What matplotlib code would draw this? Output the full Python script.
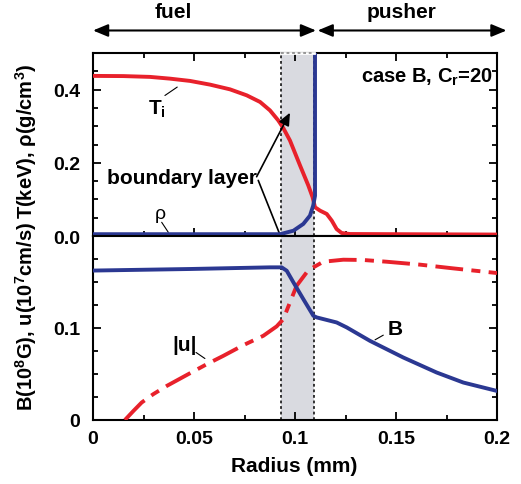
import numpy as np
import matplotlib.pyplot as plt
from matplotlib.ticker import MultipleLocator

plt.rcParams['font.family'] = ['Liberation Sans', 'DejaVu Sans']
plt.rcParams['font.weight'] = 'bold'
plt.rcParams['mathtext.fontset'] = 'custom'
plt.rcParams['mathtext.rm'] = 'Liberation Sans:bold'
plt.rcParams['mathtext.it'] = 'Liberation Sans:bold'
plt.rcParams['mathtext.bf'] = 'Liberation Sans:bold'
plt.rcParams['lines.scale_dashes'] = False

# ion temperature T_i (keV)
r_T = [0.0, 0.015, 0.0282, 0.0381, 0.048, 0.0579, 0.0678, 0.0761, 0.0827,
       0.0876, 0.0917, 0.0942, 0.0975, 0.1025, 0.1066, 0.1087, 0.1099,
       0.1124, 0.1157, 0.1182, 0.1206, 0.1231, 0.1272, 0.2]
T_i = [0.4375, 0.437, 0.4348, 0.430, 0.4238, 0.4137, 0.4008, 0.3844, 0.3663,
       0.3433, 0.3159, 0.295, 0.261, 0.1926, 0.1378, 0.106, 0.0786,
       0.0693, 0.0603, 0.042, 0.019, 0.0082, 0.0055, 0.004]

# density rho (g/cm^3)
r_rho = [0.0, 0.0926, 0.0992, 0.1041, 0.1074, 0.109, 0.1099, 0.1099]
rho = [0.005, 0.005, 0.0145, 0.033, 0.0557, 0.083, 0.110, 0.6]

# magnetic field B (10^8 G)
r_B = [0.0, 0.048, 0.0876, 0.0934, 0.0959, 0.0992, 0.1041, 0.1091, 0.1107,
       0.1206, 0.1256, 0.1371, 0.1536, 0.1701, 0.1833, 0.1999]
B = [0.1624, 0.1641, 0.1659, 0.1659, 0.1622, 0.1496, 0.1314, 0.1132, 0.1115,
     0.106, 0.1006, 0.086, 0.0679, 0.0516, 0.0407, 0.0316]

# flow speed |u| (10^7 cm/s)
r_u = [0.0158, 0.02, 0.0241, 0.0298, 0.0365, 0.048, 0.0563, 0.0645, 0.0744,
       0.0843, 0.0909, 0.0942, 0.0975, 0.1008, 0.1058, 0.1091, 0.114,
       0.1239, 0.1338, 0.1454, 0.162, 0.1782, 0.2]
u = [0.0, 0.0098, 0.019, 0.028, 0.037, 0.0508, 0.0606, 0.0697, 0.0813,
     0.0915, 0.1017, 0.1096, 0.1278, 0.1459, 0.1605, 0.1659, 0.172,
     0.1742, 0.1739, 0.172, 0.1688, 0.1648, 0.1597]

layer = (0.0929, 0.1096)

red = '#e8212b'
blue = '#2b3892'
band = '#d9dae0'

fig = plt.figure(figsize=(5.21, 4.85), dpi=100)
ax1 = fig.add_axes([0.1785, 0.5113, 0.7755, 0.3773])
ax2 = fig.add_axes([0.1785, 0.132, 0.7755, 0.3794])

for ax in (ax1, ax2):
    ax.axvspan(layer[0], layer[1], color=band, lw=0, zorder=0)
    for xv in layer:
        ax.axvline(xv, color='k', lw=1.1, ls=(0, (2, 2)), zorder=1)
    ax.set_xlim(0, 0.2)
    ax.xaxis.set_major_locator(MultipleLocator(0.05))
    ax.xaxis.set_minor_locator(MultipleLocator(0.025))
    for s in ax.spines.values():
        s.set_linewidth(1.5)
    ax.tick_params(which='both', direction='in', width=1.3, labelsize=14, right=True)
    ax.tick_params(which='major', length=6)
    ax.tick_params(which='minor', length=3.5)

# upper panel: temperature and density
ax1.plot(r_T, T_i, color=red, lw=2.8, zorder=3, solid_joinstyle='round')
ax1.plot(r_rho, rho, color=blue, lw=2.8, zorder=4, solid_joinstyle='round')
ax1.set_ylim(0, 0.5)
ax1.set_yticks([0.0, 0.2, 0.4])
ax1.set_yticklabels(['0.0', '0.2', '0.4'])
ax1.yaxis.set_minor_locator(MultipleLocator(0.05))
ax1.tick_params(which='both', top=True, labelbottom=False, pad=9)
ax1.plot([layer[0], layer[1]], [0.5, 0.5], color='white', lw=2, clip_on=False, zorder=5)
ax1.plot([layer[0], layer[1]], [0.5, 0.5], color='#888888', lw=1.2, ls=(0, (2, 2)),
         clip_on=False, zorder=6)

# lower panel: field and speed
ax2.plot(r_B, B, color=blue, lw=2.8, zorder=4, solid_joinstyle='round')
ax2.plot(r_u, u, color=red, lw=2.8, dashes=(20, 6, 6.5, 6), zorder=3)
ax2.set_ylim(0, 0.2)
ax2.set_yticks([0, 0.1])
ax2.set_yticklabels(['0', '0.1'])
ax2.yaxis.set_minor_locator(MultipleLocator(0.025))
ax2.set_xticks([0, 0.05, 0.1, 0.15, 0.2])
ax2.set_xticklabels(['0', '0.05', '0.1', '0.15', '0.2'])
ax2.tick_params(which='both', top=False)
ax2.tick_params(axis='y', pad=9)
ax2.tick_params(axis='x', pad=7)

# labels on the curves
thin = dict(arrowstyle='-', lw=0.8, color='k', shrinkA=0, shrinkB=0)
ax1.text(0.0315, 0.348, r'T$_\mathrm{i}$', fontsize=15, ha='center', va='center')
ax1.annotate('', xy=(0.0417, 0.407), xytext=(0.0356, 0.384), arrowprops=thin)
ax1.text(0.0332, 0.0603, 'ρ', fontsize=14, fontweight='normal', ha='center', va='center')
ax1.annotate('', xy=(0.0373, 0.010), xytext=(0.034, 0.0375), arrowprops=thin)
ax1.text(0.0439, 0.161, 'boundary layer', fontsize=15, ha='center', va='center')
head = dict(arrowstyle='-|>,head_length=0.5,head_width=0.22', lw=1.2, color='k',
            shrinkA=0, shrinkB=0, mutation_scale=15)
ax1.annotate('', xy=(0.0975, 0.337), xytext=(0.081, 0.162), arrowprops=head,
             annotation_clip=False)
ax1.annotate('', xy=(0.0967, -0.054), xytext=(0.0818, 0.152), arrowprops=head,
             annotation_clip=False)
ax1.text(0.198, 0.422, r'case B, C$_\mathrm{r}$=20', fontsize=14.5, ha='right', va='baseline')

ax2.text(0.0455, 0.0824, '|u|', fontsize=15, ha='center', va='center')
ax2.annotate('', xy=(0.0554, 0.0668), xytext=(0.051, 0.0734), arrowprops=thin)
ax2.text(0.1495, 0.0995, 'B', fontsize=15, ha='center', va='center')
ax2.annotate('', xy=(0.1396, 0.0871), xytext=(0.1437, 0.0922), arrowprops=thin)

# fuel / pusher regions above the plot
span = dict(arrowstyle='<|-|>,head_length=0.6,head_width=0.25', lw=1.5, color='k',
            shrinkA=0, shrinkB=0, mutation_scale=15)
ax1.annotate('', xy=(0.0, 0.5616), xytext=(0.1104, 0.5616), arrowprops=span,
             annotation_clip=False)
ax1.annotate('', xy=(0.1112, 0.5616), xytext=(0.2047, 0.5616), arrowprops=span,
             annotation_clip=False)
ax1.text(0.040, 0.6137, 'fuel', fontsize=15, ha='center', va='center', clip_on=False)
ax1.text(0.1528, 0.6137, 'pusher', fontsize=15, ha='center', va='center', clip_on=False)

fig.text(0.5643, 0.039, 'Radius (mm)', fontsize=15, ha='center', va='center')
fig.text(0.05, 0.709, r'T(keV), ρ(g/cm$^{3}$)', fontsize=14.5, rotation=90,
         ha='center', va='center')
fig.text(0.05, 0.347, r'B(10$^{8}$G), u(10$^{7}$cm/s)', fontsize=14.5, rotation=90,
         ha='center', va='center')

fig.savefig('out.png', dpi=100)
